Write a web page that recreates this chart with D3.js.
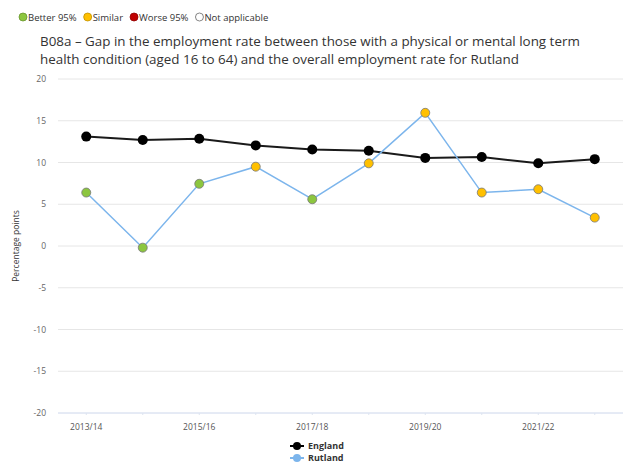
<!DOCTYPE html>
<html><head><meta charset="utf-8">
<script src="https://cdn.jsdelivr.net/npm/d3@7"></script>
<style>body{margin:0;background:#fff;}svg{display:block;font-family:"Open Sans",sans-serif;}</style>
</head><body>
<svg id="c" width="626" height="465"></svg>
<script>
const categories = ["2013/14","2014/15","2015/16","2016/17","2017/18","2018/19","2019/20","2020/21","2021/22","2022/23"];
const englandValues = [13.1,12.7,12.85,12.05,11.55,11.4,10.55,10.65,9.9,10.4];
const rutlandValues = [6.4,-0.2,7.45,9.5,5.6,9.9,15.95,6.4,6.8,3.4];
const rutlandSignificance = ["better","better","better","similar","better","similar","similar","similar","similar","similar"];
const yTicks = [-20,-15,-10,-5,0,5,10,15,20];
const xTickLabels = ["2013/14","2015/16","2017/18","2019/20","2021/22"];
const sigLegend = [["better","Better 95%"],["similar","Similar"],["worse","Worse 95%"],["na","Not applicable"]];
const sigColors = {better:"#8cc63f", similar:"#ffc000", worse:"#c00000", na:"#ffffff"};

const svg = d3.select("#c");
const pLeft = 58, pRight = 623, pTop = 79, pBottom = 413;
const x = d3.scaleBand().domain(categories).range([pLeft, pRight]);
const y = d3.scaleLinear().domain([-20,20]).range([pBottom, pTop]);
const cx = d => x(d) + x.bandwidth()/2;

// top legend
const lg = svg.append("g");
let lx = 18;
sigLegend.forEach(([k,label]) => {
  lg.append("circle").attr("cx", lx+5).attr("cy", 17).attr("r", 4)
    .attr("fill", sigColors[k]).attr("stroke", k==="na" ? "#666" : d3.color(sigColors[k]).darker(0.8)).attr("stroke-width", 0.8);
  const t = lg.append("text").attr("x", lx+10).attr("y", 20.5).attr("font-size", 9.5).attr("fill", "#333").text(label);
  lx += 10 + t.node().getComputedTextLength() + 6;
});

// title
const title = svg.append("text").attr("font-size", 13.4).attr("fill", "#333");
title.append("tspan").attr("x", 40).attr("y", 46).text("B08a \u2013 Gap in the employment rate between those with a physical or mental long term");
title.append("tspan").attr("x", 40).attr("y", 64).text("health condition (aged 16 to 64) and the overall employment rate for Rutland");

// grid
svg.append("g").selectAll("line").data(yTicks).join("line")
  .attr("x1", pLeft).attr("x2", pRight).attr("y1", d => y(d)).attr("y2", d => y(d))
  .attr("stroke", d => d === -20 ? "#ccd6eb" : "#e6e6e6").attr("stroke-width", 1);

// y labels
svg.append("g").selectAll("text").data(yTicks).join("text")
  .attr("x", 46).attr("y", d => y(d) + 3).attr("text-anchor", "end")
  .attr("font-size", 8.5).attr("fill", "#666").text(d => d);

svg.append("text").attr("transform", `translate(19,${y(0)}) rotate(-90)`)
  .attr("text-anchor", "middle").attr("font-size", 8.5).attr("fill", "#333").text("Percentage points");

// x ticks
svg.append("g").selectAll("line").data(categories).join("line")
  .attr("x1", d => cx(d)).attr("x2", d => cx(d)).attr("y1", pBottom).attr("y2", pBottom + 2)
  .attr("stroke", "#dde4f0");
svg.append("g").selectAll("text").data(xTickLabels).join("text")
  .attr("x", d => cx(d)).attr("y", 430).attr("text-anchor", "middle")
  .attr("font-size", 8.5).attr("fill", "#555").text(d => d);

// lines
const line = d3.line().x((d,i) => cx(categories[i])).y(d => y(d));
svg.append("path").datum(englandValues).attr("d", line).attr("fill", "none")
  .attr("stroke", "#1a1a1a").attr("stroke-width", 2);
svg.append("path").datum(rutlandValues).attr("d", line).attr("fill", "none")
  .attr("stroke", "#7cb5ec").attr("stroke-width", 1.5);

svg.append("g").selectAll("circle").data(englandValues).join("circle")
  .attr("cx", (d,i) => cx(categories[i])).attr("cy", d => y(d)).attr("r", 5).attr("fill", "#000");
svg.append("g").selectAll("circle").data(rutlandValues).join("circle")
  .attr("cx", (d,i) => cx(categories[i])).attr("cy", d => y(d)).attr("r", 4.5)
  .attr("fill", (d,i) => sigColors[rutlandSignificance[i]]).attr("stroke", "#777").attr("stroke-width", 0.8);

// bottom legend
const bl = svg.append("g");
[["England","#000","#000"],["Rutland","#7cb5ec","#7cb5ec"]].forEach(([name,lc,mc],i) => {
  const yy = 446 + i*12;
  bl.append("line").attr("x1", 290).attr("x2", 304).attr("y1", yy).attr("y2", yy).attr("stroke", lc).attr("stroke-width", 2);
  bl.append("circle").attr("cx", 297).attr("cy", yy).attr("r", 4).attr("fill", mc);
  bl.append("text").attr("x", 308).attr("y", yy + 3).attr("font-size", 9).attr("font-weight", "bold").attr("fill", "#333").text(name);
});
</script>
</body></html>
